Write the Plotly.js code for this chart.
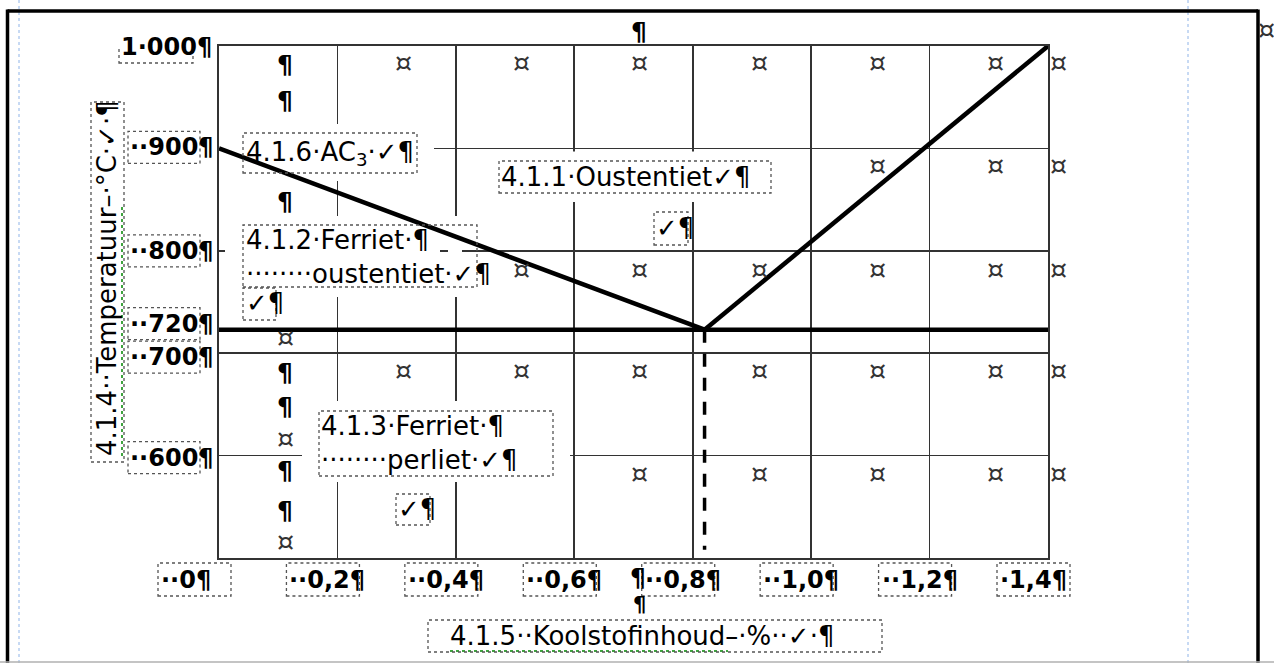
<!DOCTYPE html>
<html><head><meta charset="utf-8">
<script src="https://cdn.plot.ly/plotly-3.0.1.min.js"></script>
<style>html,body{margin:0;padding:0;background:#fff;overflow:hidden}#chart{width:1274px;height:663px}</style>
</head><body><div id="chart"></div>
<script>
// ---- data ----
const ac3Carbon = [0, 0.82];
const ac3Temp = [900, 723];
const acmCarbon = [0.82, 1.4];
const acmTemp = [723, 1000];
const a1Carbon = [0, 1.4];
const a1Temp = [723, 723];
const eutectoidCarbon = [0.82, 0.82];
const eutectoidTemp = [723, 508];

const xTickVals = [0, 0.2, 0.4, 0.6, 0.8, 1.0, 1.2, 1.4];
const xTickText = ['··0¶', '··0,2¶', '··0,4¶', '··0,6¶', '··0,8¶', '··1,0¶', '··1,2¶', '·1,4¶'];
const yGridVals = [500, 600, 700, 800, 900, 1000];
const yTickVals = [1000, 900, 800, 720, 700, 600];
const yTickText = ['1·000¶', '··900¶', '··800¶', '··720¶', '··700¶', '··600¶'];

const xTitle = '4.1.5··Koolstofinhoud–·%··✓·¶';
const yTitle = '4.1.4··Temperatuur–·°C·✓·¶';
const labelAc3 = '4.1.6·AC<sub>3</sub>·✓¶';
const labelFerAus = '4.1.2·Ferriet·¶<br>········oustentiet·✓¶';
const labelAus = '4.1.1·Oustentiet✓¶';
const labelFerPer = '4.1.3·Ferriet·¶<br>········perliet·✓¶';
const checkMark = '✓¶';
const pilcrow = '¶';
const cellMark = '¤';

// ---- layout geometry (pixels) ----
const W = 1274, H = 663, L = 219, R = 1048, T = 46, B = 558;
const X_MAX = 1.4;
const px2x = px => (px - L) / (R - L);
const px2y = py => (B - py) / (B - T);
const px2dx = px => (px - L) / (R - L) * X_MAX;
const px2dy = py => 500 + (B - py) / (B - T) * 500;
const FONT = 'DejaVu Sans, Verdana, sans-serif';

const shapes = [];
const ann = [];
const DOT = {color: '#555', width: 1.3, dash: 'dot'};

function dotBox(x0, y0, x1, y1) {
  shapes.push({type: 'rect', xref: 'paper', yref: 'paper', x0: px2x(x0), x1: px2x(x1), y0: px2y(y1), y1: px2y(y0),
    line: DOT, fillcolor: 'rgba(0,0,0,0)', layer: 'above'});
}
function cover(x0, y0, x1, y1) {
  shapes.push({type: 'rect', xref: 'x', yref: 'y', x0: px2dx(x0), x1: px2dx(x1), y0: px2dy(y1), y1: px2dy(y0),
    line: {width: 0}, fillcolor: '#ffffff', layer: 'between'});
}
function txt(text, px, py, o) {
  o = o || {};
  ann.push(Object.assign({text: text, xref: 'paper', yref: 'paper', x: px2x(px), y: px2y(py), showarrow: false,
    xanchor: 'left', yanchor: 'middle', align: 'left', borderpad: 0,
    font: {family: FONT, size: o.size || 26, color: o.color || '#000', weight: o.weight || 'normal'}}, o.extra || {}));
}
function pline(x0, y0, x1, y1, color, width, dash) {
  shapes.push({type: 'line', xref: 'paper', yref: 'paper', x0: px2x(x0), x1: px2x(x1), y0: px2y(y0), y1: px2y(y1),
    line: {color: color, width: width, dash: dash || 'solid'}, layer: 'above'});
}

// gaps of the table grid where Word frames sit
cover(221, 124, 434, 181);
cover(225, 216, 440, 297);
cover(448, 216, 462, 297);
cover(302, 401, 570, 482);
cover(560, 151.5, 705, 202);

// page decorations
pline(19, 0, 19, 663, '#8fb4e8', 1, 'dot');
pline(1188, 0, 1188, 663, '#8fb4e8', 1, 'dot');
pline(7.5, 11, 1258, 11, '#000', 3.5);
pline(7.5, 9.5, 7.5, 663, '#000', 3.5);
pline(1258, 9.5, 1258, 663, '#000', 3.5);
pline(0, 662, 1274, 662, '#b0b0b0', 1.5);
// spelling squiggles
pline(122, 207, 122, 459, '#3fa33f', 2, 'dot');
pline(450, 651, 728, 651, '#3fa33f', 2, 'dot');

// y tick labels
const yShift = {1000: -1, 900: 1, 800: 0, 720: 9, 700: -4, 600: -2};
yTickVals.forEach((v, i) => {
  const left = v === 1000 ? 119 : 128, right = v === 1000 ? 193 : 200;
  const s = yShift[v];
  shapes.push({type: 'rect', xref: 'paper', yref: 'y', ysizemode: 'pixel', yanchor: v,
    x0: px2x(left), x1: px2x(right), y0: s - 16, y1: s + 16,
    line: DOT, fillcolor: 'rgba(0,0,0,0)', layer: 'above'});
  ann.push({text: yTickText[i], xref: 'paper', yref: 'y', x: px2x(left + 1), y: v, yshift: s,
    xanchor: 'left', yanchor: 'middle', showarrow: false, borderpad: 0,
    font: {family: FONT, size: 24, color: '#000', weight: 'bold'}});
});

// x tick labels (box placed in paper space around each tick's position)
xTickVals.forEach((v, i) => {
  const off = i === 0 ? -61 : -51;
  const tickPaper = v / X_MAX;
  const pxPerPaper = R - L;
  shapes.push({type: 'rect', xref: 'paper', yref: 'paper',
    x0: tickPaper + off / pxPerPaper, x1: tickPaper + (off + 73) / pxPerPaper, y0: px2y(596), y1: px2y(563),
    line: DOT, fillcolor: 'rgba(0,0,0,0)', layer: 'above'});
  ann.push({text: xTickText[i], xref: 'x', yref: 'paper', x: v, xshift: off + 2, y: px2y(580),
    xanchor: 'left', yanchor: 'middle', showarrow: false, borderpad: 0,
    font: {family: FONT, size: 24, color: '#000', weight: 'bold'}});
});

// region labels and titles
dotBox(243, 133, 417, 173);   txt(labelAc3, 245, 153);
dotBox(243, 225, 477, 287);   txt(labelFerAus, 245, 257);
dotBox(243, 288, 276, 320);   txt(checkMark, 245, 303);
dotBox(499, 161, 771, 193);   txt(labelAus, 500, 177);
dotBox(654, 212, 688, 245);   txt(checkMark, 655, 228);
dotBox(319, 411, 553, 476);   txt(labelFerPer, 320, 443);
dotBox(396, 494, 430, 525);   txt(checkMark, 397, 509);
dotBox(428, 620, 882, 652);   txt(xTitle, 449, 636);
dotBox(91, 102, 124, 462);
txt(yTitle, 107, 278, {extra: {textangle: -90, xanchor: 'center'}});

// formatting marks
const pilcrowPos = [[639, 31], [285, 64], [285, 100], [285, 201], [285, 372], [285, 406], [285, 470], [285, 510], [638, 577]];
pilcrowPos.forEach(p => txt(pilcrow, p[0], p[1], {size: 25, weight: 'bold', extra: {xanchor: 'center'}}));
txt(pilcrow, 639, 605, {size: 21, weight: 'bold', extra: {xanchor: 'center'}});
const cellRows = [[62, [403, 521, 639, 759, 877, 995, 1058]], [165, [877, 995, 1058]], [269, [521, 639, 759, 877, 995, 1058]],
  [370, [403, 521, 639, 759, 877, 995, 1058]], [473, [639, 759, 877, 995, 1058]], [337, [285]], [438, [285]], [541, [285]], [29, [1266]]];
cellRows.forEach(r => r[1].forEach(x => txt(cellMark, x, r[0], {size: 27, color: '#333', extra: {xanchor: 'center'}})));

const lineStyle = {color: '#000', width: 4.5};
const traces = [
  {x: ac3Carbon, y: ac3Temp, mode: 'lines', line: lineStyle, hoverinfo: 'skip'},
  {x: acmCarbon, y: acmTemp, mode: 'lines', line: lineStyle, hoverinfo: 'skip'},
  {x: a1Carbon, y: a1Temp, mode: 'lines', line: {color: '#000', width: 4.5}, hoverinfo: 'skip'},
  {x: eutectoidCarbon, y: eutectoidTemp, mode: 'lines', line: {color: '#000', width: 3.5, dash: '13px,11px'}, hoverinfo: 'skip'}
];

const axisCommon = {showgrid: true, gridcolor: '#333', gridwidth: 1.6, zeroline: false, showline: true, mirror: true,
  linecolor: '#333', linewidth: 2, ticks: '', showticklabels: false, fixedrange: true};

const layout = {
  width: W, height: H, margin: {l: L, r: W - R, t: T, b: H - B, pad: 0},
  paper_bgcolor: '#fff', plot_bgcolor: '#fff', showlegend: false,
  xaxis: Object.assign({range: [0, X_MAX], tickvals: xTickVals}, axisCommon),
  yaxis: Object.assign({range: [500, 1000], tickvals: yGridVals}, axisCommon),
  shapes: shapes, annotations: ann
};

Plotly.newPlot('chart', traces, layout, {staticPlot: true, displayModeBar: false});
</script></body></html>
